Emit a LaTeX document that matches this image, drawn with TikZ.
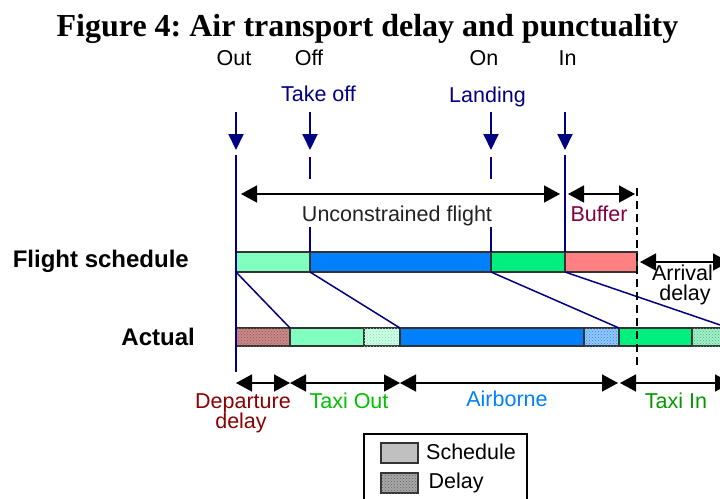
\documentclass[tikz,border=0pt]{standalone}
\usepackage{fontspec}
\setmainfont{Liberation Serif}
\setsansfont{Liberation Sans}
\usetikzlibrary{arrows.meta,patterns}
\definecolor{navy}{HTML}{000080}
\definecolor{taxig}{HTML}{80FFC0}
\definecolor{airb}{HTML}{0080FF}
\definecolor{ting}{HTML}{00F080}
\definecolor{buff}{HTML}{FF8080}
\definecolor{outl}{HTML}{333333}
\definecolor{depd}{HTML}{C88888}
\definecolor{depdot}{HTML}{985858}
\definecolor{txd}{HTML}{CCFFE6}
\definecolor{txdot}{HTML}{88DDB0}
\definecolor{abd}{HTML}{90C8FF}
\definecolor{abdot}{HTML}{4080D0}
\definecolor{tid}{HTML}{A0F0C8}
\definecolor{tidot}{HTML}{50B080}
\definecolor{depc}{HTML}{8B0000}
\definecolor{txoc}{HTML}{00C000}
\definecolor{airc}{HTML}{0080FF}
\definecolor{tinc}{HTML}{009A00}
\definecolor{bufc}{HTML}{800040}
\definecolor{darkt}{HTML}{222222}
\definecolor{lgsch}{HTML}{C0C0C0}
\definecolor{lgdel}{HTML}{A8A8A8}
\definecolor{lgdot}{HTML}{606060}
\frenchspacing
\begin{document}
\begin{tikzpicture}[x=1pt,y=-1pt,
  seg/.style={draw=outl,line width=1.5pt,inner sep=0pt,outer sep=0pt,anchor=north west,minimum height=20pt},
  aseg/.style={seg,minimum height=18pt},
  dly/.style={postaction={pattern=crosshatch dots,pattern color=#1}},
  conn/.style={draw=navy,line width=1.5pt},
  evt/.style={draw=navy,line width=2pt,-{Triangle[length=16pt,width=15pt]}},
  dim/.style={draw=black,line width=1.5pt,{Triangle[length=16pt,width=17pt]}-{Triangle[length=16pt,width=17pt]}},
  lbl/.style={font=\sffamily\fontsize{21.5}{20}\selectfont,inner sep=0pt,anchor=base},
  blbl/.style={font=\sffamily\bfseries\fontsize{24}{24}\selectfont,inner sep=0pt,anchor=base east}]
\path[use as bounding box,fill=white] (0,0) rectangle (720,498);

% title
\node[font=\bfseries\fontsize{32}{32}\selectfont,inner sep=0pt,anchor=base] (title) at (367.5,36) {Figure 4: Air transport delay and punctuality};

% event labels
\node[lbl] (out) at (234,65) {Out};
\node[lbl] (off) at (309,65) {Off};
\node[lbl] (on) at (484,65) {On};
\node[lbl] (in) at (567.5,65) {In};
\node[lbl,text=navy] (takeoff) at (318.5,101) {Take off};
\node[lbl,text=navy] (landing) at (487.5,102) {Landing};

% schedule bar
\node[seg,fill=taxig,minimum width=74pt] (s1) at (236,252) {};
\node[seg,fill=airb,minimum width=181pt] (s2) at (310,252) {};
\node[seg,fill=ting,minimum width=74pt] (s3) at (491,252) {};
\node[seg,fill=buff,minimum width=72pt] (s4) at (565,252) {};

% actual bar
\node[aseg,fill=depd,dly=depdot,minimum width=54pt] (a1) at (236,328) {};
\node[aseg,fill=taxig,minimum width=74pt] (a2) at (290,328) {};
\node[aseg,fill=txd,dly=txdot,minimum width=36pt] (a3) at (364,328) {};
\node[aseg,fill=airb,minimum width=184pt] (a4) at (400,328) {};
\node[aseg,fill=abd,dly=abdot,minimum width=35pt] (a5) at (584,328) {};
\node[aseg,fill=ting,minimum width=73pt] (a6) at (619,328) {};
\node[aseg,fill=tid,dly=tidot,minimum width=37pt] (a7) at (692,328) {};

% row labels
\node[blbl] (fs) at (189,267) {Flight schedule};
\node[blbl] (act) at (195,345) {Actual};

% event arrows
\coordinate (outA) at (236,112); \coordinate (outB) at (236,150);
\coordinate (offA) at (310,112); \coordinate (offB) at (310,150);
\coordinate (onA) at (491,112); \coordinate (onB) at (491,150);
\coordinate (inA) at (565,112); \coordinate (inB) at (565,150);
\draw[evt] (outA) -- (outB);
\draw[evt] (offA) -- (offB);
\draw[evt] (onA) -- (onB);
\draw[evt] (inA) -- (inB);

% vertical navy lines
\coordinate (outC) at (236,155); \coordinate (outD) at (236,372);
\draw[conn] (outC) -- (outD);
\coordinate (offC) at (310,157); \coordinate (offD) at (310,179); \coordinate (offE) at (310,227);
\draw[conn] (offC) -- (offD);
\draw[conn] (offE) -- (s2.north west);
\coordinate (onC) at (491,157); \coordinate (onD) at (491,179); \coordinate (onE) at (491,227);
\draw[conn] (onC) -- (onD);
\draw[conn] (onE) -- (s3.north west);
\coordinate (inC) at (565,155);
\draw[conn] (inC) -- (s4.north west);

% slanted connectors
\draw[conn] (s1.south west) -- (a1.north east);
\draw[conn] (s2.south west) -- (a3.north east);
\draw[conn] (s3.south west) -- (a5.north east);
\draw[conn] (s4.south west) -- (a7.north east);

% dashed line
\coordinate (dA) at (637,188); \coordinate (dB) at (637,366);
\draw[black,line width=1.5pt,dash pattern=on 8pt off 5pt] (dA) -- (dB);

% upper dimension arrows
\coordinate (u1) at (241,194); \coordinate (u2) at (560,194);
\draw[dim] (u1) -- (u2);
\coordinate (b1) at (568,194); \coordinate (b2) at (635,194);
\draw[dim] (b1) -- (b2);
\node[lbl,text=darkt] (unc) at (397,221.5) {Unconstrained flight};
\node[lbl,text=bufc] (buffer) at (599,221.5) {Buffer};

% arrival delay
\coordinate (ad1) at (640,262); \coordinate (ad2) at (729,262);
\draw[dim] (ad1) -- (ad2);
\node[lbl] (arr1) at (682.5,280) {Arrival};
\node[lbl] (arr2) at (685,300) {delay};

% lower dimension arrows
\coordinate (l0) at (236,383); \coordinate (l1) at (290,383);
\coordinate (l2) at (400,383); \coordinate (l3) at (618,383);
\coordinate (l3b) at (620,383); \coordinate (l4) at (731,383);
\draw[dim] (l0) -- (l1);
\draw[dim] (l1) -- (l2);
\draw[dim] (l2) -- (l3);
\draw[dim] (l3b) -- (l4);
\node[lbl,text=depc] (dep1) at (243,408) {Departure};
\node[lbl,text=depc] (dep2) at (241,428) {delay};
\node[lbl,text=txoc] (txo) at (349,408) {Taxi Out};
\node[lbl,text=airc] (airborne) at (507,406) {Airborne};
\node[lbl,text=tinc] (txi) at (676,408) {Taxi In};

% legend
\node[draw=black,line width=1.5pt,inner sep=0pt,anchor=north west,minimum width=163pt,minimum height=80pt] (legend) at (363,433) {};
\node[seg,draw=outl,fill=lgsch,minimum width=37pt] (sw1) at (381,443) {};
\node[seg,draw=outl,fill=lgdel,dly=lgdot,minimum width=37pt] (sw2) at (381,473) {};
\node[lbl,anchor=base west] (lsch) at (426,459) {Schedule};
\node[lbl,anchor=base west] (ldel) at (428.5,488) {Delay};
\end{tikzpicture}
\end{document}
